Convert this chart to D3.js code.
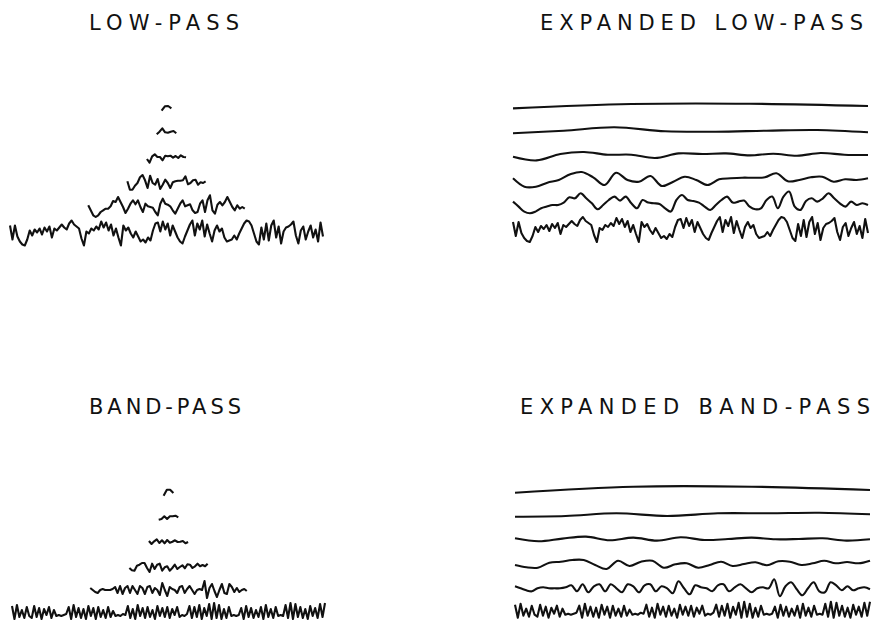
<!DOCTYPE html>
<html>
<head>
<meta charset="utf-8">
<script src="https://cdn.jsdelivr.net/npm/d3@7"></script>
<style>
  body { margin: 0; background: #fff; }
  svg { display: block; }
  .title { font-family: "DejaVu Sans", sans-serif; font-size: 21px; fill: #111; }
  .trace { fill: none; stroke: #111; stroke-width: 2.1; stroke-linejoin: round; }
</style>
</head>
<body>
<svg id="chart" width="872" height="627"></svg>
<script>
// pyramid levels, finest first. values are offsets in px (up = positive)
var lowL0 = [8,-6,8,-3,-8,-11,-12,-6,3,-2,4,1,5,-1,6,2,7,-4,5,3,6,9,6,4,10,13,9,7,5,-5,-12,2,
  0,5,3,7,4,12,6,11,3,9,-2,5,-4,-12,8,3,6,0,-4,2,-3,-8,-6,-9,-4,-7,3,10,11,2,12,4,
  10,-2,8,2,-4,-8,-10,-3,3,9,13,-2,10,4,13,-3,9,0,-8,3,8,2,5,-4,-8,-7,-6,-2,-6,0,5,10,
  13,12,8,0,-8,-11,6,-6,10,-7,8,13,-4,7,-10,2,6,7,9,12,-2,-10,3,7,-6,2,8,-4,4,-8,11,-3];
var lowL1 = [1.7,-3.3,-8.3,-10,-8.3,-5,-3.3,-1.7,-1.7,0.7,6,5,10,5,0,-6,-1.7,3.3,6.7,2.7,6.7,0,-5,3.3,0.7,0,-0.7,-5,-8.3,3.3,8.3,3.3,
  2.3,0.7,-3.3,-6.7,-1.7,3.3,6.7,0.7,1.7,2.7,-3.3,-6,-5,3.3,6.7,-5,6.7,11.7,-3.3,-6.7,2.3,5,1.7,5,10,5,0,-3.3,1.7,-1.7,0,-1.7];
var lowL2 = [1.7,-6.7,-6.7,-2.7,0,5.7,8,2.7,-5,7.3,0,-1.7,4,-6,-1.7,3.3,0,-5,0.7,1.7,2.3,2.3,2.7,6.7,-1.3,0,2.7,3.3,-1.7,0.7,0,1.7];
var lowL3 = [-1,-4.7,1.7,3.7,1,1,-2.3,2.3,1.7,2.3,0.3,2,0,2.7,1,0.7];
var lowL4 = [-2.3,0.3,3.7,-0.3,-0.7,0.3,1,-1.3];
var lowL5 = [-2.7,1.7,2,-0.3];

var bandL0 = [7,-6,8,-4,3,-5,6,-3,-5,7,-4,5,-6,4,-2,6,-5,3,
  -3,-2,-3,-2,-1,
  6,-6,8,-4,5,-5,4,-6,7,-3,5,-6,6,-4,3,-5,6,-4,2,
  -3,-2,-3,-1,-2,
  7,-5,4,-6,8,-3,5,-5,6,-4,3,-6,7,-3,5,-4,6,-5,4,-2,6,-4,
  -2,-3,-1,
  7,-5,6,-4,8,-6,5,-3,9,-6,10,-5,8,-6,4,-5,6,-3,
  -2,-3,-2,
  5,-6,7,-4,5,-5,3,-4,6,-6,8,-4,4,-5,6,
  -3,-2,-3,
  8,-5,10,-6,9,-4,6,-5,4,-6,7,-3,5,-5,9,-4,10];
var bandL1 = [2,0,-2,-3,0,1,0,0,0,1,3,-3,4,-4,2,4,-3,4,0,-4,4,2,-4,3,4,-3,2,0,-5,7,0,-6,
  3,1,0,-3,3,4,-3,1,4,0,-4,0,1,0,9,-8,2,6,-1,-7,0,6,-3,-4,6,3,-2,2,-2,0,1,-1];
var bandL2 = [-1,-3.3,-3.7,1.3,2.3,4,4,-1,-5,3.3,-2,2.3,3.3,-3.7,-0.3,0.7,-3.7,-1,2.3,-2,0,1.7,-1.3,2.7,2.3,-1,0.7,3.3,0.7,2,0.7,3.3];
var bandL3 = [1,-2,0.7,2.7,-1,1.7,-1.3,2,-0.7,0.3,1.7,0,0.3,1,-1.3,0];
var bandL4 = [-1.7,-1,1.7,-1,1.7,1.7,2.3,0.7];
var bandL5 = [-3.7,2.3,2.3,-1];

var lowPass = [lowL0, lowL1, lowL2, lowL3, lowL4, lowL5];
var bandPass = [bandL0, bandL1, bandL2, bandL3, bandL4, bandL5];

var titles = ["LOW-PASS", "EXPANDED LOW-PASS", "BAND-PASS", "EXPANDED BAND-PASS"];

var svg = d3.select('#chart');

// row centres listed coarsest (top) to finest (bottom)
var panels = [
  {levels: lowPass, x0: 10, x1: 323, rows: [108, 132, 158, 183, 207, 233.5], expanded: false},
  {levels: lowPass, x0: 513, x1: 868, rows: [105.7, 131, 155.7, 180, 203.3, 230], expanded: true},
  {levels: bandPass, x0: 12, x1: 325, rows: [492, 518, 542, 567, 590, 613], expanded: false},
  {levels: bandPass, x0: 515, x1: 870, rows: [489, 515, 539.3, 564, 588.3, 611.7], expanded: true}
];

var y = d3.scaleLinear().domain([-15, 15]).range([15, -15]);

panels.forEach(function(p) {
  var g = svg.append('g');
  var full = p.x1 - p.x0, cx = (p.x0 + p.x1) / 2;
  p.levels.forEach(function(vals, l) {
    var n = vals.length;
    var x;
    if (p.expanded) {
      x = d3.scaleLinear().domain([0, n - 1]).range([p.x0, p.x1]);
    } else {
      var w = full * n / lowL0.length;
      x = d3.scaleLinear().domain([0, n - 1]).range([cx - w / 2, cx + w / 2]);
    }
    var line = d3.line()
      .x(function(d, i) { return x(i); })
      .y(function(d) { return y(d); })
      .curve(p.expanded && l > 0 ? d3.curveCatmullRom : d3.curveLinear);
    g.append('path')
      .attr('class', 'trace')
      .attr('transform', 'translate(0,' + p.rows[5 - l] + ')')
      .attr('d', line(vals));
  });
});

// titles
var titlePos = [
  {x: 89, y: 30, w: 150},
  {x: 540, y: 30, w: 323},
  {x: 89, y: 414, w: 152},
  {x: 520, y: 414, w: 350}
];
titles.forEach(function(t, i) {
  svg.append('text')
    .attr('class', 'title')
    .attr('x', titlePos[i].x)
    .attr('y', titlePos[i].y)
    .attr('textLength', titlePos[i].w)
    .attr('lengthAdjust', 'spacing')
    .text(t);
});
</script>
</body>
</html>
